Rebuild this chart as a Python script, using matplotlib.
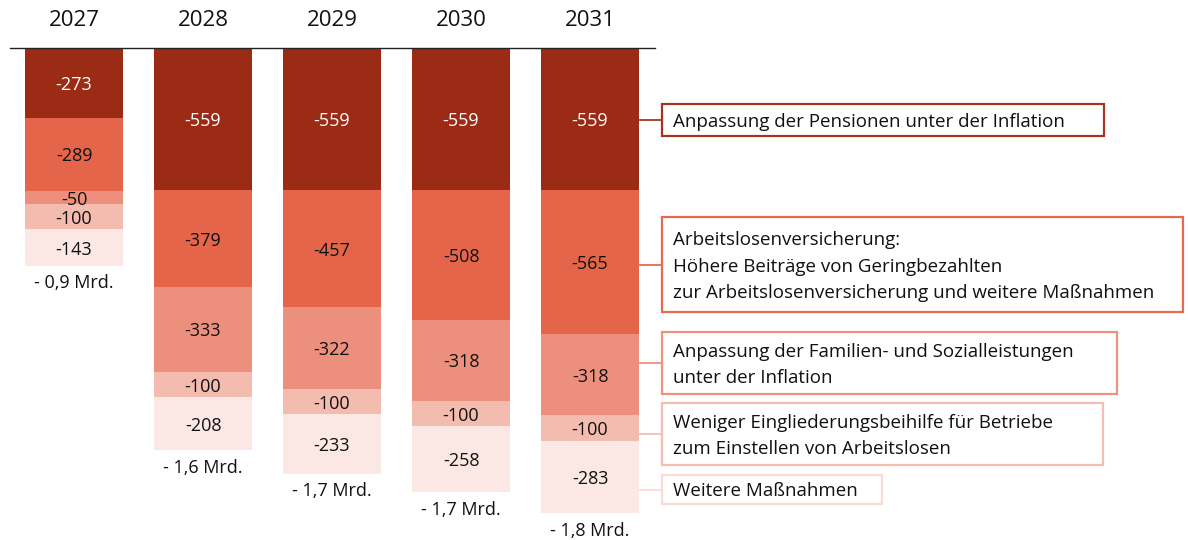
import matplotlib.pyplot as plt
from matplotlib.patches import Rectangle

plt.rcParams['font.family'] = ['Open Sans', 'DejaVu Sans']

# data (Mio. Euro, negative = cuts)
years = ['2027', '2028', '2029', '2030', '2031']
pensionen = [-273, -559, -559, -559, -559]
arbeitslosen = [-289, -379, -457, -508, -565]
familien = [-50, -333, -322, -318, -318]
eingliederung = [-100, -100, -100, -100, -100]
weitere = [-143, -208, -233, -258, -283]

series = [pensionen, arbeitslosen, familien, eingliederung, weitere]
colors = ['#9c2b16', '#e4654a', '#ec907d', '#f4bbaf', '#fbe8e4']
edge_colors = ['#a8341f', '#e9694e', '#ee9280', '#f6bdb1', '#f9dcd5']
label_colors = ['white', '#111111', '#111111', '#111111', '#111111']

legend_texts = [
    'Anpassung der Pensionen unter der Inflation',
    'Arbeitslosenversicherung:\nHöhere Beiträge von Geringbezahlten\nzur Arbeitslosenversicherung und weitere Maßnahmen',
    'Anpassung der Familien- und Sozialleistungen\nunter der Inflation',
    'Weniger Eingliederungsbeihilfe für Betriebe\nzum Einstellen von Arbeitslosen',
    'Weitere Maßnahmen',
]

W, H = 1188, 540
fig = plt.figure(figsize=(W / 100, H / 100), dpi=100)

# main axes: value 0 sits at pixel row 48, 0.2548 px per unit
px = 0.2548
ax = fig.add_axes([0, 0, 1, 1])
ax.set_xlim(-74 / 129, (W - 74) / 129)
ax.set_ylim(-(H - 48) / px, 48 / px)
ax.axis('off')

x = list(range(len(years)))
width = 98 / 129
bottom = [0] * len(years)
for s, vals in enumerate(series):
    ax.bar(x, vals, width=width, bottom=bottom, color=colors[s], linewidth=0)
    for i, v in enumerate(vals):
        ax.text(x[i], bottom[i] + v / 2 - 2 / px, str(v), ha='center', va='center',
                fontsize=13, color=label_colors[s])
    bottom = [b + v for b, v in zip(bottom, vals)]

for i, b in enumerate(bottom):
    total = -b / 1000
    ax.text(x[i], b - 17.5 / px, '- ' + f'{total:.1f}'.replace('.', ',') + ' Mrd.',
            ha='center', va='center', fontsize=13, color='#111111')
    ax.text(x[i], 27 / px, years[i], ha='center', va='center',
            fontsize=16, color='#111111')

ax.plot([-64 / 129, (655 - 74) / 129], [0, 0], color='#222222', lw=1)

# overlay in pixel coordinates for the annotation boxes
lay = fig.add_axes([0, 0, 1, 1])
lay.set_xlim(0, W)
lay.set_ylim(H, 0)
lay.axis('off')

boxes = [(104, 136, 1104), (217, 312, 1183), (332, 394, 1117), (403, 465, 1103), (475, 504, 882)]
for s, (top, bot, right) in enumerate(boxes):
    mid = (top + bot) / 2
    lay.add_patch(Rectangle((662, top), right - 662, bot - top, fill=False,
                            edgecolor=edge_colors[s], lw=1.6))
    lay.plot([640, 662], [mid, mid], color=edge_colors[s], lw=1.3)
    lay.text(673, mid + 2, legend_texts[s], ha='left', va='center', fontsize=13.5,
             color='#111111', linespacing=1.6)

fig.savefig('out.png', dpi=100)
